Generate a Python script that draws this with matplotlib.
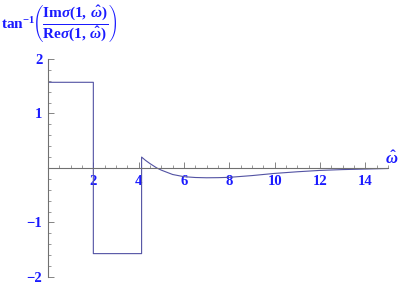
import matplotlib
matplotlib.use("Agg")
import matplotlib.pyplot as plt
from matplotlib.ticker import MultipleLocator

plt.rcParams.update({
    "font.family": "Liberation Serif",
    "font.weight": "bold",
    "mathtext.fontset": "custom",
    "mathtext.rm": "Liberation Serif:bold",
    "mathtext.it": "Liberation Serif:italic:bold",
    "mathtext.bf": "Liberation Serif:bold",
})

LINE = "#5252a3"
TEXT = "#1a1aff"
AXIS = "#707070"

# step part then decaying tail
omega = [0, 2, 2, 4.13, 4.13, 4.3, 4.5, 4.8, 5.0, 5.5, 6.0, 6.5, 7.0, 7.5,
         8.0, 9.0, 10.0, 11.0, 12.0, 13.0, 14.0, 15.0]
phase = [1.571, 1.571, -1.571, -1.571, 0.2, 0.14, 0.08, 0.0, -0.04, -0.12,
         -0.16, -0.175, -0.18, -0.178, -0.172, -0.14, -0.10, -0.07, -0.045,
         -0.03, -0.02, -0.01]

xticks = [2, 4, 6, 8, 10, 12, 14]
yticks = [-2, -1, 1, 2]

fig = plt.figure(figsize=(4.15, 2.84), dpi=100)
ax = fig.add_axes([0.1157, 0.0246, 0.819, 0.768])
ax.plot(omega, phase, color=LINE, lw=0.8)

ax.set_xlim(0, 15)
ax.set_ylim(-2, 2)
ax.spines["left"].set_position(("data", 0))
ax.spines["bottom"].set_position(("data", 0))
for s in ["top", "right"]:
    ax.spines[s].set_visible(False)
for s in ["left", "bottom"]:
    ax.spines[s].set_color(AXIS)
    ax.spines[s].set_linewidth(0.8)

ax.set_xticks(xticks)
ax.set_yticks(yticks)
ax.set_yticklabels(["\u22122", "\u22121", "1", "2"])
ax.xaxis.set_minor_locator(MultipleLocator(0.5))
ax.yaxis.set_minor_locator(MultipleLocator(0.2))
ax.tick_params(which="major", direction="in", length=4, width=0.6, color=AXIS,
               labelsize=10.5, labelcolor=TEXT)
ax.tick_params(axis="x", which="major", pad=5)
ax.tick_params(axis="y", which="major", pad=4)
ax.tick_params(which="minor", direction="in", length=2.2, width=0.5, color=AXIS)
for lab in ax.get_xticklabels() + ax.get_yticklabels():
    lab.set_fontweight("bold")

fig.text(0.003, 0.915,
         r"$\mathrm{tan}^{-1}\!\left(\dfrac{\mathrm{Im}\sigma(1,\,\hat{\omega})}{\mathrm{Re}\sigma(1,\,\hat{\omega})}\right)$",
         color=TEXT, fontsize=11, va="center", ha="left")
fig.text(0.945, 0.44, r"$\hat{\omega}$", color=TEXT, fontsize=12,
         va="center", ha="center")

fig.savefig("out.png", dpi=100)
